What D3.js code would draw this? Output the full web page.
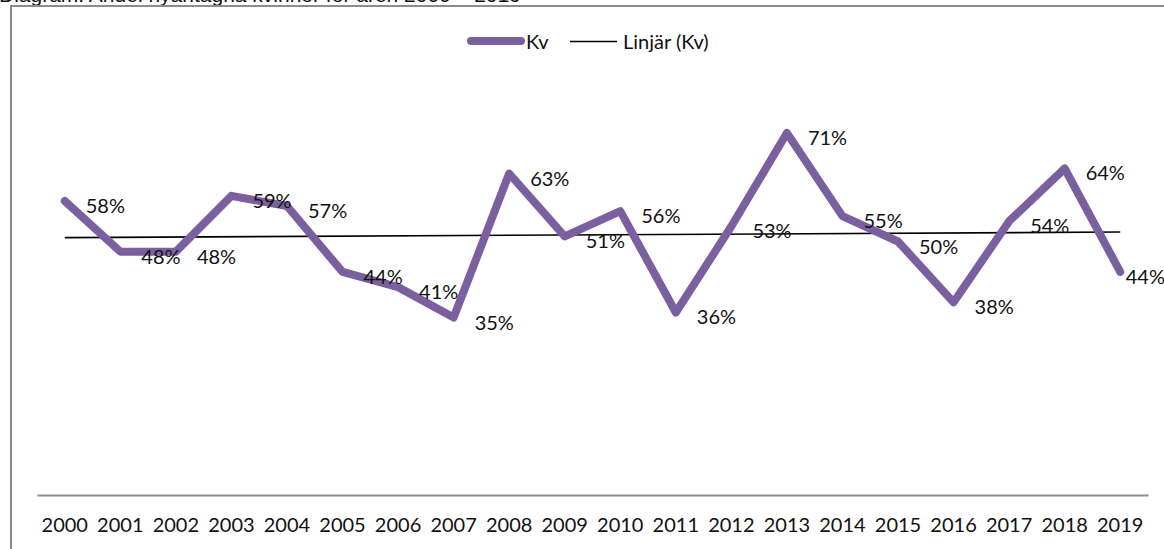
<!DOCTYPE html>
<html>
<head>
<meta charset="utf-8">
<script src="https://cdn.jsdelivr.net/npm/d3@7"></script>
<style>
  body { margin: 0; background: #fff; overflow: hidden; }
  text { font-family: Lato, "Open Sans", sans-serif; fill: #111; }
</style>
</head>
<body>
<script>
//andel nyantagna kvinnor, line chart + linear trend

//data
var years = ["2000","2001","2002","2003","2004","2005","2006","2007","2008","2009",
             "2010","2011","2012","2013","2014","2015","2016","2017","2018","2019"];
var kvValues = [0.58, 0.48, 0.48, 0.59, 0.57, 0.44, 0.41, 0.35, 0.634, 0.51,
                0.56, 0.36, 0.53, 0.714, 0.55, 0.50, 0.38, 0.54, 0.644, 0.44];
var titleText = "Diagram: Andel nyantagna kvinnor för åren 2000 – 2019";
var legendLabels = ["Kv", "Linjär (Kv)"];

var width = 1164,
    height = 549,
    purple = "#7b609f",
    frameGrey = "#8c8c8c",
    fontSize = "20px";

var svg = d3.select("body")
    .append("svg")
    .attr("width", width)
    .attr("height", height);

//title, mostly cut off at the top edge
svg.append("text")
    .attr("x", -1)
    .attr("y", 1.5)
    .style("font-family", "'Liberation Sans', Arial, sans-serif")
    .style("font-size", "21px")
    .text(titleText);

//chart frame (left and top edges only visible)
svg.append("path")
    .attr("d", "M11,549 L11,6 L1164,6")
    .attr("fill", "none")
    .attr("stroke", frameGrey)
    .attr("stroke-width", 2);

//scales
var x = d3.scaleBand()
    .domain(years)
    .range([37, 1148])
    .padding(0);

var y = d3.scaleLinear()
    .domain([0, 1])
    .range([495, -12]);

function cx(d){ return x(d) + x.bandwidth() / 2; }

//category axis
var xAxis = svg.append("g")
    .attr("transform", "translate(0,495)")
    .call(d3.axisBottom(x).tickSize(0).tickPadding(23));
xAxis.select(".domain")
    .attr("stroke", frameGrey)
    .attr("stroke-width", 2);
xAxis.selectAll("text")
    .style("font-family", "Lato, 'Open Sans', sans-serif")
    .style("font-size", fontSize)
    .attr("fill", "#111");

//linear trend (least squares on index)
var n = kvValues.length,
    mx = d3.mean(d3.range(n)),
    my = d3.mean(kvValues),
    slope = d3.sum(kvValues, function(v, i){ return (i - mx) * (v - my); }) /
            d3.sum(d3.range(n), function(i){ return (i - mx) * (i - mx); }),
    intercept = my - slope * mx;

svg.append("line")
    .attr("x1", cx(years[0]))
    .attr("x2", cx(years[n - 1]))
    .attr("y1", y(intercept))
    .attr("y2", y(intercept + slope * (n - 1)))
    .attr("stroke", "#000")
    .attr("stroke-width", 1.6);

//series line
var line = d3.line()
    .x(function(d, i){ return cx(years[i]); })
    .y(function(d){ return y(d); });

svg.append("path")
    .datum(kvValues)
    .attr("d", line)
    .attr("fill", "none")
    .attr("stroke", purple)
    .attr("stroke-width", 8)
    .attr("stroke-linejoin", "round")
    .attr("stroke-linecap", "round");

//data labels, to the right of each point, kept inside the picture
var labels = svg.selectAll(".lbl")
    .data(kvValues)
    .enter()
    .append("text")
    .attr("class", "lbl")
    .attr("y", function(d){ return y(d) + 4; })
    .attr("dominant-baseline", "central")
    .style("font-size", fontSize)
    .text(function(d){ return Math.round(d * 100) + "%"; });

labels.attr("x", function(d, i){
    var w = this.getComputedTextLength();
    return Math.min(cx(years[i]) + 21, width + 1 - w);
});

//legend
var legend = svg.append("g");
legend.append("line")
    .attr("x1", 471).attr("x2", 521)
    .attr("y1", 41).attr("y2", 41)
    .attr("stroke", purple)
    .attr("stroke-width", 8)
    .attr("stroke-linecap", "round");
legend.append("text")
    .attr("x", 526).attr("y", 41)
    .attr("dominant-baseline", "central")
    .style("font-size", fontSize)
    .text(legendLabels[0]);
legend.append("line")
    .attr("x1", 570).attr("x2", 617)
    .attr("y1", 41.5).attr("y2", 41.5)
    .attr("stroke", "#000")
    .attr("stroke-width", 1.6);
legend.append("text")
    .attr("x", 623).attr("y", 41)
    .attr("dominant-baseline", "central")
    .style("font-size", fontSize)
    .text(legendLabels[1]);
</script>
</body>
</html>
